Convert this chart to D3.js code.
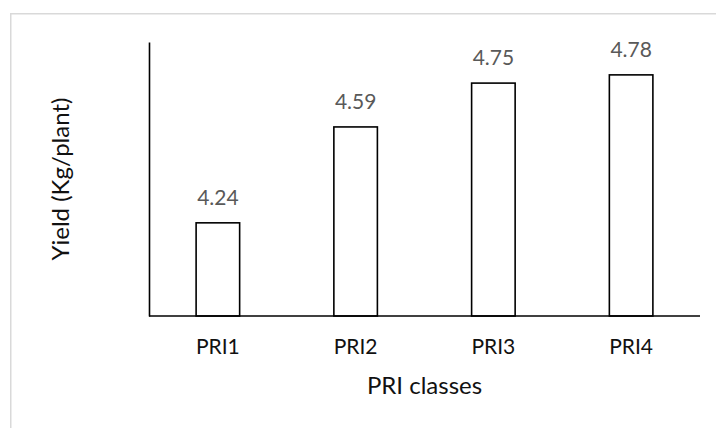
<!DOCTYPE html>
<html>
<head>
<meta charset="utf-8">
<script src="https://cdn.jsdelivr.net/npm/d3@7"></script>
<style>
  html, body { margin: 0; padding: 0; background: #fff; }
  svg { display: block; font-family: Lato, "Open Sans", sans-serif; }
</style>
</head>
<body>
<svg id="chart" width="716" height="428"></svg>
<script>
// Yield per PRI class
const categories = ["PRI1", "PRI2", "PRI3", "PRI4"];
const yieldValues = [4.24, 4.59, 4.75, 4.78];
const yDomain = [3.9, 4.9];

const svg = d3.select("#chart");
const W = 716, H = 428;
const plot = { left: 149, right: 700, top: 42, bottom: 316 };

// outer chart-area frame
svg.append("rect")
  .attr("x", 10.75).attr("y", 13.75)
  .attr("width", W + 20).attr("height", H + 20)
  .attr("fill", "#fff")
  .attr("stroke", "#d9d9d9")
  .attr("stroke-width", 1.5);

const x = d3.scaleBand()
  .domain(categories)
  .range([plot.left, plot.right])
  .paddingInner(0.684)
  .paddingOuter(0.342);

const y = d3.scaleLinear()
  .domain(yDomain)
  .range([plot.bottom, plot.top]);

// bars
svg.append("g")
  .selectAll("rect")
  .data(categories)
  .join("rect")
  .attr("x", d => x(d))
  .attr("y", (d, i) => y(yieldValues[i]))
  .attr("width", x.bandwidth())
  .attr("height", (d, i) => y(yDomain[0]) - y(yieldValues[i]))
  .attr("fill", "#fff")
  .attr("stroke", "#000")
  .attr("stroke-width", 1.6);

// value labels
svg.append("g")
  .selectAll("text")
  .data(categories)
  .join("text")
  .attr("x", d => x(d) + x.bandwidth() / 2)
  .attr("y", (d, i) => y(yieldValues[i]) - 18)
  .attr("text-anchor", "middle")
  .attr("font-size", 21)
  .attr("fill", "#595959")
  .text((d, i) => yieldValues[i].toFixed(2));

// y axis: line only
const yAxis = svg.append("g")
  .attr("transform", `translate(${plot.left},0)`)
  .call(d3.axisLeft(y).tickValues([]).tickSizeOuter(0));
yAxis.select(".domain").attr("stroke", "#000").attr("stroke-width", 1.6);

// x axis
const xAxis = svg.append("g")
  .attr("transform", `translate(0,${plot.bottom})`)
  .call(d3.axisBottom(x).tickSize(0).tickSizeOuter(0).tickPadding(23));
xAxis.select(".domain")
  .attr("d", `M${plot.left},0H${plot.right}`)
  .attr("stroke", "#000").attr("stroke-width", 1.6);
xAxis.selectAll("text")
  .attr("font-family", "Lato, 'Open Sans', sans-serif")
  .attr("font-size", 21)
  .attr("fill", "#111");

// axis titles
svg.append("text")
  .attr("x", (plot.left + plot.right) / 2)
  .attr("y", 394)
  .attr("text-anchor", "middle")
  .attr("font-size", 24)
  .attr("fill", "#111")
  .text("PRI classes");

svg.append("text")
  .attr("transform", `translate(69,${(plot.top + plot.bottom) / 2}) rotate(-90)`)
  .attr("text-anchor", "middle")
  .attr("font-size", 24)
  .attr("fill", "#111")
  .text("Yield (Kg/plant)");
</script>
</body>
</html>
